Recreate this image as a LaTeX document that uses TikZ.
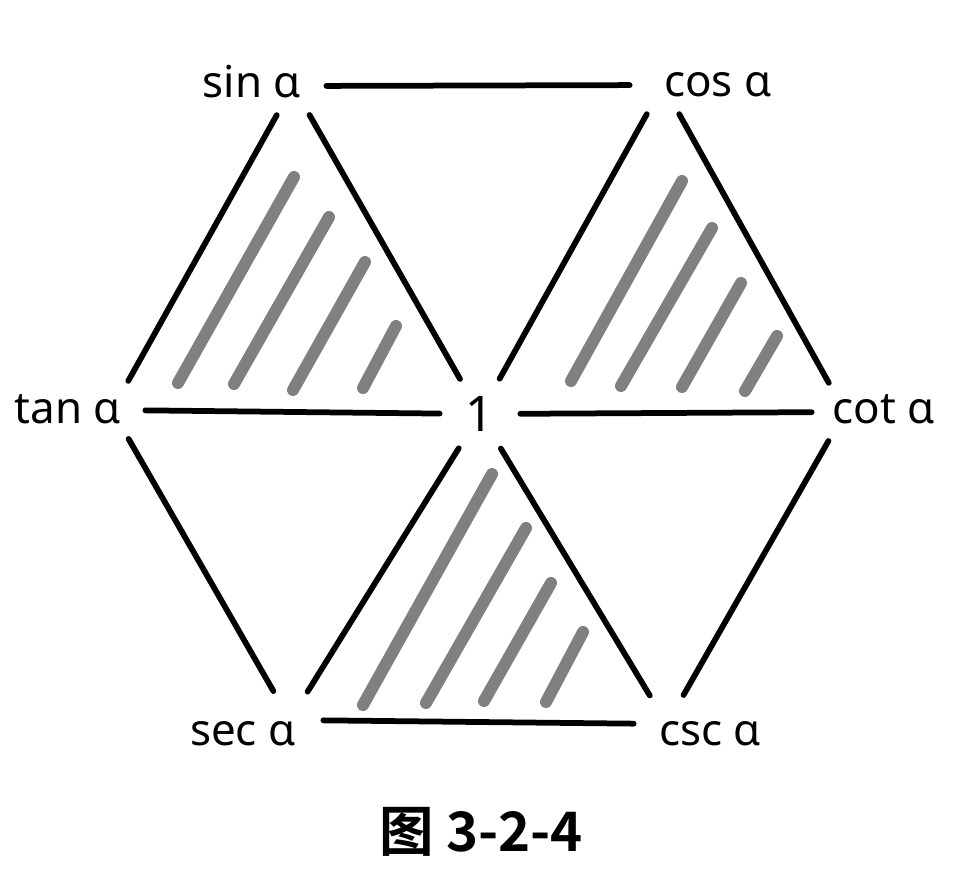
\documentclass[tikz,border=0pt]{standalone}
\usepackage{fontspec}
\setmainfont{Noto Sans}
\newfontfamily\cjkbold{Noto Sans CJK SC Bold}
\usetikzlibrary{positioning}
\definecolor{hatchGray}{RGB}{128,128,128}
\tikzset{
    hexLine/.style={line width=0.115cm, line cap=round, black},
    hatch/.style={line width=0.24cm, line cap=round, hatchGray},
    vertex/.style={circle, inner sep=0pt, minimum size=1.32cm},
    funLabel/.style={anchor=base, font=\fontsize{25}{30}\selectfont}
}

\begin{document}
\begin{tikzpicture}[x=0.02cm, y=-0.02cm]
    \useasboundingbox (0,0) rectangle (957,893);
    % hexagon corners
    \node[vertex] (sinV) at (293,86) {};
    \node[vertex] (cosV) at (663,85) {};
    \node[vertex] (tanV) at (112,410) {};
    \node[vertex, minimum size=1.6cm, font=\fontsize{28}{30}\selectfont] (one) at (480,414) {1};
    \node[vertex] (cotV) at (845,412) {};
    \node[vertex] (secV) at (290,720) {};
    \node[vertex] (cscV) at (667,724) {};
    % names
    \node[funLabel] (sinT) at (252,97) {sin α};
    \node[funLabel] (cosT) at (718,96) {cos α};
    \node[funLabel] (tanT) at (68,423) {tan α};
    \node[funLabel] (cotT) at (884,423) {cot α};
    \node[funLabel] (secT) at (243,745) {sec α};
    \node[funLabel] (cscT) at (710,745) {csc α};
    % edges
    \draw[hexLine] (sinV)--(cosV) (sinV)--(tanV) (sinV)--(one)
        (cosV)--(one) (cosV)--(cotV) (tanV)--(one) (one)--(cotV)
        (tanV)--(secV) (one)--(secV) (one)--(cscV) (cotV)--(cscV)
        (secV)--(cscV);
    % shaded triangles
    \foreach \xa/\ya/\xb/\yb in {178/383/294/177, 234/384/329/217, 293/390/365/262, 363/388/396/326,
        571/381/682/181, 621/386/712/228, 682/387/741/283, 745/391/777/336,
        363/705/492/474, 426/703/526/528, 484/701/551/583, 546/702/583/632}
        \draw[hatch] (\xa,\ya)--(\xb,\yb);
    \node[anchor=base, font=\cjkbold\fontsize{31}{34}\selectfont] (caption) at (481,851) {图 3-2-4};
\end{tikzpicture}
\end{document}
